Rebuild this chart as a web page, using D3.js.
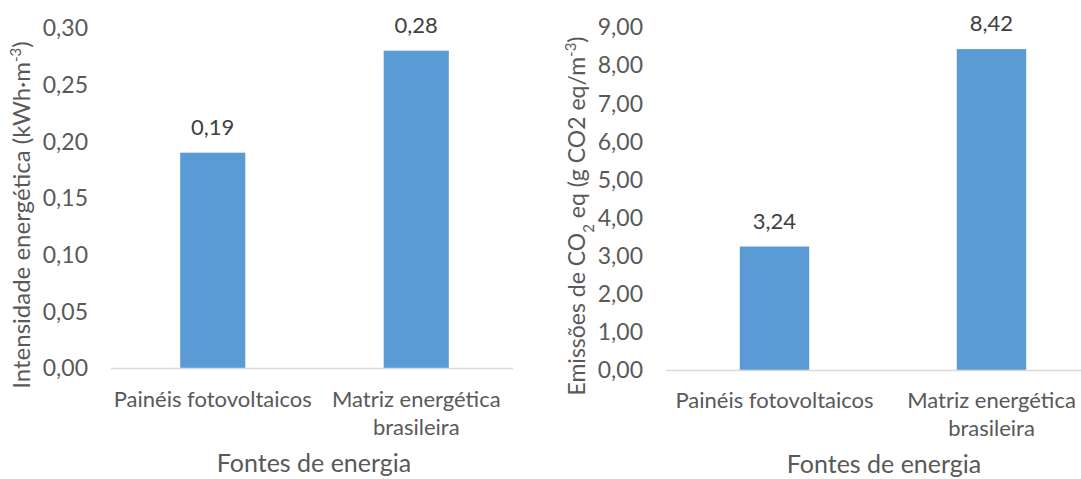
<!DOCTYPE html>
<html>
<head>
<meta charset="utf-8">
<script src="https://cdn.jsdelivr.net/npm/d3@7"></script>
<style>
  html, body { margin: 0; padding: 0; background: #fff; }
  svg { display: block; font-family: Lato, "Open Sans", sans-serif; }
</style>
</head>
<body>
<svg id="chart" width="1081" height="479"></svg>
<script>
// Categories shared by both panels
const categories = ["Painéis fotovoltaicos", "Matriz energética brasileira"];
const categoryLines = [["Painéis fotovoltaicos"], ["Matriz energética", "brasileira"]];

// Panel A: energy intensity (kWh·m-3)
const intensityValues = [0.19, 0.28];
const intensityTicks = [0, 0.05, 0.10, 0.15, 0.20, 0.25, 0.30];

// Panel B: emissions (g CO2 eq/m-3)
const emissionValues = [3.24, 8.42];
const emissionTicks = [0, 1, 2, 3, 4, 5, 6, 7, 8, 9];

const xTitle = "Fontes de energia";

const svg = d3.select("#chart");
const BAR = "#5B9BD5", AXIS = "#D9D9D9", TXT = "#595959", LBL = "#404040";
const fmt = d => d3.format(".2f")(d).replace(".", ",");

function panel(o) {
  const g = svg.append("g");
  const x = d3.scaleBand().domain(categories).range([o.x0, o.x1]).paddingInner(0.68).paddingOuter(0.34);
  const y = d3.scaleLinear().domain([0, o.max]).range([o.y0, o.y1]);

  // value axis labels
  g.append("g").selectAll("text").data(o.ticks).join("text")
    .attr("x", o.tickX).attr("y", d => y(d)).attr("dy", "0.36em")
    .attr("text-anchor", "end").attr("font-size", 23).attr("fill", TXT)
    .text(fmt);

  // bars
  g.append("g").selectAll("rect").data(o.values).join("rect")
    .attr("x", (d, i) => x(categories[i])).attr("width", x.bandwidth())
    .attr("y", d => y(d)).attr("height", d => y(0) - y(d))
    .attr("fill", BAR);

  // baseline
  g.append("line").attr("x1", o.x0).attr("x2", o.lineEnd)
    .attr("y1", y(0) + 0.5).attr("y2", y(0) + 0.5)
    .attr("stroke", AXIS).attr("stroke-width", 1.5);

  // value labels
  g.append("g").selectAll("text").data(o.values).join("text")
    .attr("x", (d, i) => x(categories[i]) + x.bandwidth() / 2)
    .attr("y", d => y(d) - 18)
    .attr("text-anchor", "middle").attr("font-size", 22).attr("fill", LBL)
    .text(fmt);

  // category labels
  const cl = g.append("g").selectAll("text").data(categoryLines).join("text")
    .attr("x", (d, i) => x(categories[i]) + x.bandwidth() / 2)
    .attr("y", o.catY)
    .attr("text-anchor", "middle").attr("font-size", 22).attr("fill", TXT);
  cl.each(function (lines, i) {
    const t = d3.select(this);
    lines.forEach((l, j) => {
      t.append("tspan").attr("x", x(categories[i]) + x.bandwidth() / 2)
        .attr("dy", j === 0 ? 0 : 28).text(l);
    });
  });

  // category axis title
  g.append("text").attr("x", o.titleX).attr("y", o.titleY)
    .attr("text-anchor", "middle").attr("font-size", 25).attr("fill", TXT)
    .text(xTitle);

  // value axis title
  const yt = g.append("text")
    .attr("transform", `translate(${o.yTitleX},${o.yTitleY}) rotate(-90)`)
    .attr("text-anchor", "middle").attr("font-size", o.yTitleSize).attr("fill", TXT);
  o.yTitle.forEach(p => {
    const s = yt.append("tspan").text(p.t);
    if (p.sup) s.attr("font-size", 15).attr("baseline-shift", "super");
    if (p.sub) s.attr("font-size", 15).attr("baseline-shift", "sub");
  });
}

panel({
  x0: 111, x1: 518, lineEnd: 513, y0: 368, y1: 28, max: 0.30,
  values: intensityValues, ticks: intensityTicks, tickX: 88,
  catY: 407, titleX: 314, titleY: 472, yTitleX: 30, yTitleY: 215, yTitleSize: 24,
  yTitle: [{ t: "Intensidade energética (kWh·m" }, { t: "-3", sup: true }, { t: ")" }]
});

panel({
  x0: 666, x1: 1100, lineEnd: 1081, y0: 370, y1: 27, max: 9,
  values: emissionValues, ticks: emissionTicks, tickX: 643,
  catY: 408, titleX: 884, titleY: 473, yTitleX: 585, yTitleY: 216, yTitleSize: 23,
  yTitle: [{ t: "Emissões de CO" }, { t: "2", sub: true }, { t: " eq (g CO2 eq/m" }, { t: "-3", sup: true }, { t: ")" }]
});
</script>
</body>
</html>
